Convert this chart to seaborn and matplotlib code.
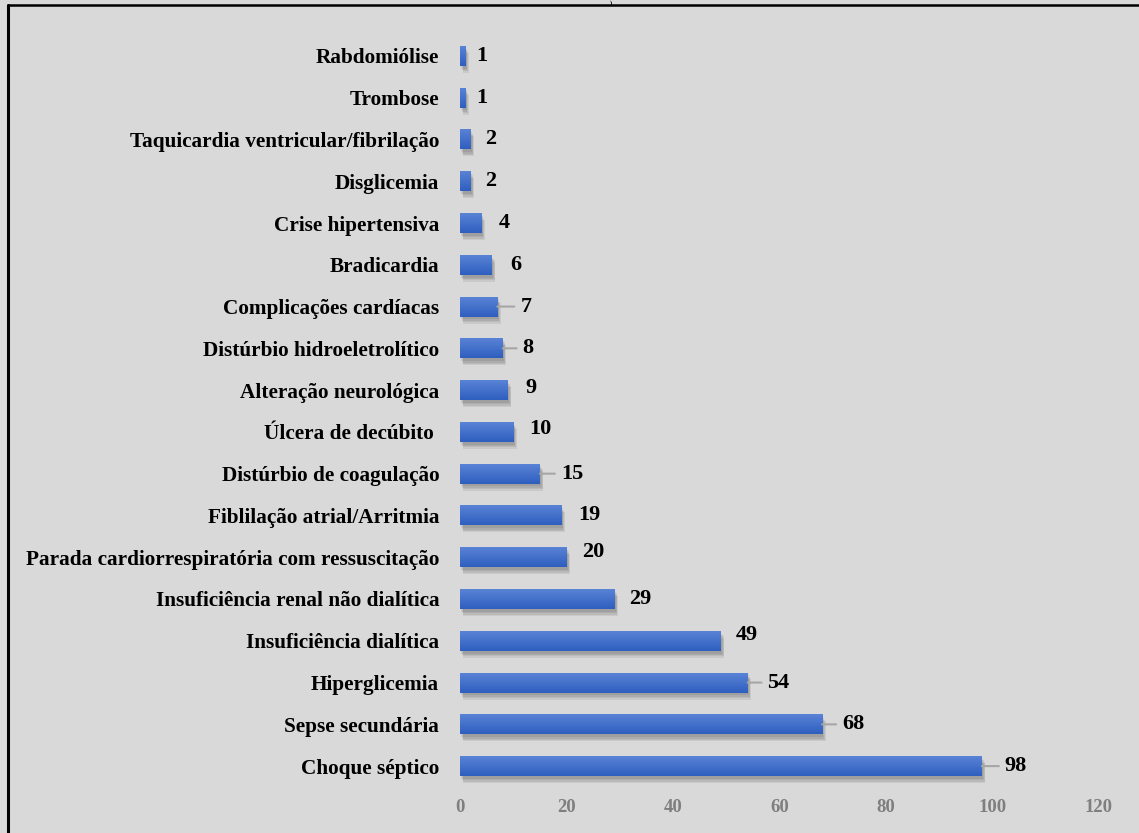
import numpy as np
import pandas as pd
import matplotlib
matplotlib.use("Agg")
import matplotlib.pyplot as plt
import matplotlib.patheffects as pe
from matplotlib.lines import Line2D
import seaborn as sns

categories = [
    "Rabdomiólise",
    "Trombose",
    "Taquicardia ventricular/fibrilação",
    "Disglicemia",
    "Crise hipertensiva",
    "Bradicardia",
    "Complicações cardíacas",
    "Distúrbio hidroeletrolítico",
    "Alteração neurológica",
    "Úlcera de decúbito ",
    "Distúrbio de coagulação",
    "Fiblilação atrial/Arritmia",
    "Parada cardiorrespiratória com ressuscitação",
    "Insuficiência renal não dialítica",
    "Insuficiência dialítica",
    "Hiperglicemia",
    "Sepse secundária",
    "Choque séptico",
]
values = [1, 1, 2, 2, 4, 6, 7, 8, 9, 10, 15, 19, 20, 29, 49, 54, 68, 98]
x_ticks = [0, 20, 40, 60, 80, 100, 120]

# label placement tweaks (pixels): gap from bar end, vertical shift, leader line
label_gap = [11, 11, 14, 14, 17, 18, 23, 20, 17, 16, 21, 17, 16, 15, 15, 20, 20, 23]
label_dy = [0, 0, 0, 0, 0, 0, 0, 0, 2, 3, 0, 0, 5, 0, 6, 0, 0, 0]
leader = [False, False, False, False, False, False, True, True, False, False, True,
          False, False, False, False, True, True, True]

BG = "#d9d9d9"
sns.set_theme(style="white")
plt.rcParams["font.family"] = ["Liberation Serif", "DejaVu Serif"]

df = pd.DataFrame({"cat": categories, "val": values})

fig = plt.figure(figsize=(11.39, 8.33), dpi=100, facecolor=BG)
ax = fig.add_axes([460 / 1139, 1 - 787 / 833, (1099 - 460) / 1139, (787 - 35) / 833])
ax.set_facecolor(BG)

sns.barplot(data=df, y="cat", x="val", orient="h", color="#4472c4", width=0.48,
            ax=ax, saturation=1, linewidth=0)

# gradient fill + soft shadow for each bar
grad = np.linspace(0, 1, 64).reshape(-1, 1)
top = np.array([0.36, 0.52, 0.84])
bot = np.array([0.18, 0.37, 0.75])
img = top[None, None, :] * (1 - grad[:, :, None]) + bot[None, None, :] * grad[:, :, None]
shadow = [pe.SimplePatchShadow(offset=(o * 0.5, -o), shadow_rgbFace="black", alpha=0.07)
          for o in (5, 4, 3, 2)]
for p in ax.patches:
    p.set_linewidth(0)
    p.set_path_effects(shadow + [pe.Normal()])
    x0, y0 = p.get_x(), p.get_y()
    w, h = p.get_width(), p.get_height()
    im = ax.imshow(img, extent=[x0, x0 + w, y0 + h, y0], aspect="auto", zorder=3,
                   interpolation="bilinear")
    im.set_clip_path(p)
ax.set_xlim(0, 120)
ax.set_ylim(len(categories) - 0.5, -0.5)

# value labels
px2pt = 72 / 100
for i, (v, gap, dy, ld) in enumerate(zip(values, label_gap, label_dy, leader)):
    ax.annotate(str(v), xy=(v, i), xytext=(gap * px2pt, dy * px2pt),
                textcoords="offset points", ha="left", va="center",
                fontsize=16, fontweight="bold", color="black", zorder=5)
    if ld:
        ax.annotate("", xy=(v, i), xytext=((gap - 6) * px2pt, 0),
                    textcoords="offset points",
                    arrowprops=dict(arrowstyle="-", color="#a6a6a6", lw=1.5,
                                    shrinkA=0, shrinkB=0), zorder=4)

ax.set_xticks(x_ticks)
ax.set_xticklabels([str(t) for t in x_ticks], fontsize=13.5, fontweight="bold",
                   color="#7f7f7f")
ax.tick_params(axis="x", length=0, pad=9)
ax.tick_params(axis="y", length=0, pad=15)
for lbl in ax.get_yticklabels():
    lbl.set_fontsize(15.3)
    lbl.set_fontweight("bold")
    lbl.set_color("black")
ax.set_xlabel("")
ax.set_ylabel("")
for s in ax.spines.values():
    s.set_visible(False)
ax.grid(False)

# frame fragments and cropped title fragment
fig.add_artist(Line2D([8 / 1139, 8 / 1139], [0, 1 - 5 / 833], color="black", lw=2.2,
                      transform=fig.transFigure))
fig.add_artist(Line2D([8 / 1139, 1], [1 - 5 / 833, 1 - 5 / 833], color="black", lw=1.8,
                      transform=fig.transFigure))
fig.text(611 / 1139, 1.0, ")", fontsize=4.5, fontweight="bold", ha="center",
         va="top", color="black")

fig.savefig("out.png", dpi=100, facecolor=BG)
